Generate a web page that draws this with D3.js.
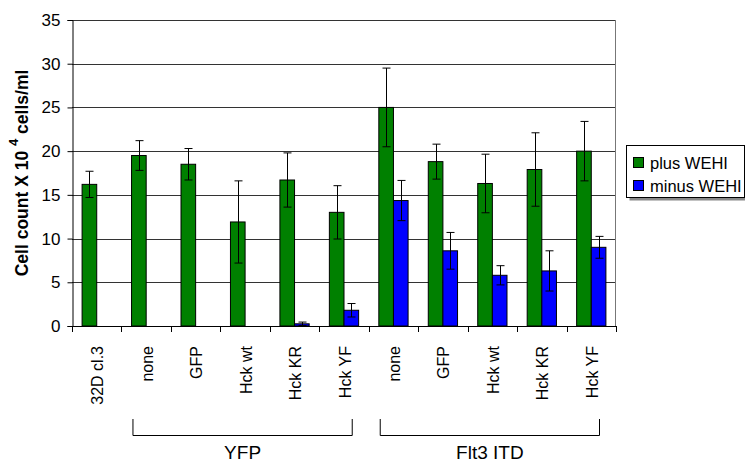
<!DOCTYPE html>
<html lang="en">
<head>
    <meta charset="UTF-8">
    <title>Cell count</title>
    <style>
        body { margin: 0; background: #fff; }
        text { font-family: Arial, "Liberation Sans", sans-serif; fill: #000; }
    </style>
</head>
<script src="https://cdn.jsdelivr.net/npm/d3@7"></script>
<body>
</body>
<script>
    // data
    var categories = ['32D cl.3', 'none', 'GFP', 'Hck wt', 'Hck KR', 'Hck YF', 'none', 'GFP', 'Hck wt', 'Hck KR', 'Hck YF']
    var plusWehi = [16.2, 19.5, 18.5, 11.9, 16.7, 13.0, 25.0, 18.8, 16.3, 17.9, 20.0]
    var plusErr = [1.5, 1.7, 1.8, 4.7, 3.1, 3.05, 4.5, 2.0, 3.35, 4.2, 3.4]
    var minusWehi = [0, 0, 0, 0, 0.25, 1.8, 14.35, 8.6, 5.8, 6.3, 9.0]
    var minusErr = [0, 0, 0, 0, 0.2, 0.77, 2.3, 2.1, 1.1, 2.3, 1.25]
    var yTicks = [0, 5, 10, 15, 20, 25, 30, 35]
    var seriesNames = ['plus WEHI', 'minus WEHI']
    var seriesColors = ['#008000', '#0000ff']
    var groupNames = ['YFP', 'Flt3 ITD']
    var groupFrom = [1, 6]
    var groupTo = [5, 10]

    var width = 745,
        height = 462,
        plot = { left: 72, right: 616, top: 20, bottom: 326 }

    var svg = d3.select('body')
        .append('svg')
        .attr('width', width)
        .attr('height', height)

    var xScale = d3.scaleBand()
        .domain(d3.range(categories.length))
        .range([plot.left, plot.right])
    var step = xScale.step()
    var xSub = d3.scaleBand()
        .domain([0, 1])
        .range([0, step])
        .paddingOuter(0.69)
    var yScale = d3.scaleLinear()
        .domain([0, 35])
        .range([plot.bottom, plot.top])

    // gridlines
    svg.append('g')
        .selectAll('line')
        .data(yTicks.filter(d => d > 0))
        .enter()
        .append('line')
        .attr('x1', plot.left)
        .attr('x2', plot.right - 1)
        .attr('y1', d => Math.round(yScale(d)) + 0.5)
        .attr('y2', d => Math.round(yScale(d)) + 0.5)
        .attr('stroke', '#333')

    // right border
    svg.append('line')
        .attr('x1', plot.right - 0.5).attr('x2', plot.right - 0.5)
        .attr('y1', yScale(35)).attr('y2', plot.bottom)
        .attr('stroke', '#777')

    // y axis
    var yAxis = svg.append('g')
        .attr('transform', 'translate(' + (plot.left + 0.5) + ',0)')
        .call(d3.axisLeft(yScale).tickValues(yTicks).tickSize(5).tickPadding(7))
    yAxis.select('.domain').attr('stroke', '#000')
    yAxis.selectAll('line').attr('stroke', '#000')
    yAxis.selectAll('text')
        .style('font-size', '17px')
        .style('font-family', 'Arial, "Liberation Sans", sans-serif')

    // bars + error bars
    var series = [
        { values: plusWehi, err: plusErr },
        { values: minusWehi, err: minusErr }
    ]
    series.forEach(function (s, si) {
        var items = s.values.map((v, i) => ({ i: i, v: v, e: s.err[i] })).filter(d => d.v > 0)
        svg.append('g')
            .selectAll('rect')
            .data(items)
            .enter()
            .append('rect')
            .attr('x', d => xScale(d.i) + xSub(si))
            .attr('width', xSub.bandwidth())
            .attr('y', d => yScale(d.v))
            .attr('height', d => plot.bottom - yScale(d.v))
            .attr('fill', seriesColors[si])
            .attr('stroke', '#000')
            .attr('stroke-width', 1)

        var eb = svg.append('g').attr('stroke', '#000').attr('stroke-width', 1)
        items.forEach(function (d) {
            var cx = Math.round(xScale(d.i) + xSub(si) + xSub.bandwidth() / 2) + 0.5
            var y1 = yScale(d.v + d.e), y2 = yScale(d.v - d.e)
            eb.append('line').attr('x1', cx).attr('x2', cx).attr('y1', y1).attr('y2', y2)
            eb.append('line').attr('x1', cx - 4).attr('x2', cx + 4).attr('y1', y1).attr('y2', y1)
            eb.append('line').attr('x1', cx - 4).attr('x2', cx + 4).attr('y1', y2).attr('y2', y2)
        })
    })

    // x axis
    var xAxis = svg.append('g')
    xAxis.append('line')
        .attr('x1', plot.left).attr('x2', plot.right)
        .attr('y1', plot.bottom + 0.5).attr('y2', plot.bottom + 0.5)
        .attr('stroke', '#000')
    xAxis.selectAll('.tick')
        .data(d3.range(categories.length + 1))
        .enter()
        .append('line')
        .attr('x1', d => Math.round(plot.left + d * step) + 0.5)
        .attr('x2', d => Math.round(plot.left + d * step) + 0.5)
        .attr('y1', plot.bottom)
        .attr('y2', plot.bottom + 6)
        .attr('stroke', '#000')
    xAxis.selectAll('text')
        .data(categories)
        .enter()
        .append('text')
        .attr('transform', (d, i) => 'translate(' + (xScale(i) + step / 2 + 6.5) + ',' + (plot.bottom + 20) + ') rotate(-90)')
        .style('text-anchor', 'end')
        .style('font-size', '16px')
        .text(d => d)

    // group brackets
    groupNames.forEach(function (name, gi) {
        var x1 = xScale(groupFrom[gi]) + 11.5
        var x2 = xScale(groupTo[gi]) + step - 16.5
        svg.append('path')
            .attr('d', 'M' + x1 + ',419V435.5H' + x2 + 'V419')
            .attr('fill', 'none')
            .attr('stroke', '#000')
        svg.append('text')
            .attr('x', (x1 + x2) / 2)
            .attr('y', 459)
            .style('text-anchor', 'middle')
            .style('font-size', '19px')
            .text(name)
    })

    // y axis title
    var title = svg.append('text')
        .attr('transform', 'translate(28,' + 173 + ') rotate(-90)')
        .style('text-anchor', 'middle')
        .style('font-size', '17.5px')
        .style('font-weight', 'bold')
    title.append('tspan').text('Cell count X 10 ')
    title.append('tspan').attr('dy', -10).style('font-size', '13px').text('4')
    title.append('tspan').attr('dy', 10).text(' cells/ml')

    // legend
    var legend = svg.append('g')
    legend.append('rect')
        .attr('x', 629.5).attr('y', 148.5)
        .attr('width', 118).attr('height', 52)
        .attr('fill', '#888')
    legend.append('rect')
        .attr('x', 626.5).attr('y', 145.5)
        .attr('width', 118).attr('height', 52)
        .attr('fill', '#fff')
        .attr('stroke', '#000')
    legend.selectAll('.sw')
        .data(seriesNames)
        .enter()
        .append('rect')
        .attr('x', 633.5)
        .attr('y', (d, i) => 157.5 + i * 23)
        .attr('width', 10)
        .attr('height', 10)
        .attr('fill', (d, i) => seriesColors[i])
        .attr('stroke', '#000')
    legend.selectAll('.lt')
        .data(seriesNames)
        .enter()
        .append('text')
        .attr('x', 650)
        .attr('y', (d, i) => 168.5 + i * 23)
        .style('font-size', '16.5px')
        .text(d => d)
</script>
</html>
